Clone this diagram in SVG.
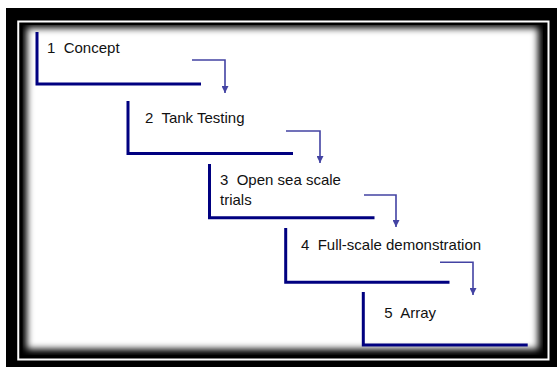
<svg xmlns="http://www.w3.org/2000/svg" width="557" height="367" viewBox="0 0 557 367">
  <defs>
    <style>
      .step { fill: none; stroke: #000080; stroke-width: 3; stroke-linejoin: miter; }
      .conn { fill: none; stroke: #4343a3; stroke-width: 1.6; }
      .lbl { font-family: "Liberation Sans", Arial, sans-serif; font-size: 15px; fill: #111; }
    </style>
    <marker id="ah" viewBox="0 0 10 10" refX="10" refY="5" markerWidth="10" markerHeight="7" markerUnits="userSpaceOnUse" orient="auto">
      <path d="M0,0 L10,5 L0,10 z" fill="#4343a3"/>
    </marker>
    <clipPath id="inner">
      <rect x="22.5" y="25" width="520.5" height="330"/>
    </clipPath>
    <filter id="soft" x="-10%" y="-10%" width="120%" height="120%">
      <feGaussianBlur stdDeviation="3.5"/>
    </filter>
  </defs>

  <g id="frame">
    <rect x="6" y="8" width="551" height="359" fill="#000"/>
    <rect x="18.25" y="21.5" width="530.25" height="338" fill="none" stroke="#fff" stroke-width="2"/>
    <g clip-path="url(#inner)">
      <rect x="22.5" y="25" width="520.5" height="330" fill="#000"/>
      <rect x="27" y="28" width="511" height="321" fill="#fff" filter="url(#soft)"/>
    </g>
  </g>

  <g id="step1">
    <path class="step" d="M37,32 V84 H201"/>
    <text class="lbl" x="47" y="53" xml:space="preserve">1  Concept</text>
  </g>
  <g id="step2">
    <path class="step" d="M128,101 V153.5 H293"/>
    <text class="lbl" x="145" y="123" xml:space="preserve">2  Tank Testing</text>
  </g>
  <g id="step3">
    <path class="step" d="M209.5,164 V217.7 H374.5"/>
    <text class="lbl" x="220" y="185" xml:space="preserve">3  Open sea scale</text>
    <text class="lbl" x="220" y="205">trials</text>
  </g>
  <g id="step4">
    <path class="step" d="M285.7,228 V282.3 H449.5"/>
    <text class="lbl" x="301" y="250" xml:space="preserve">4  Full-scale demonstration</text>
  </g>
  <g id="step5">
    <path class="step" d="M363.3,292 V345 H527.7"/>
    <text class="lbl" x="384.3" y="318" xml:space="preserve">5  Array</text>
  </g>

  <g id="connectors">
    <path class="conn" d="M192,60 H225 V93" marker-end="url(#ah)"/>
    <path class="conn" d="M286,131 H320 V163" marker-end="url(#ah)"/>
    <path class="conn" d="M364,195 H396 V227" marker-end="url(#ah)"/>
    <path class="conn" d="M440,262.3 H473 V295" marker-end="url(#ah)"/>
  </g>
</svg>
